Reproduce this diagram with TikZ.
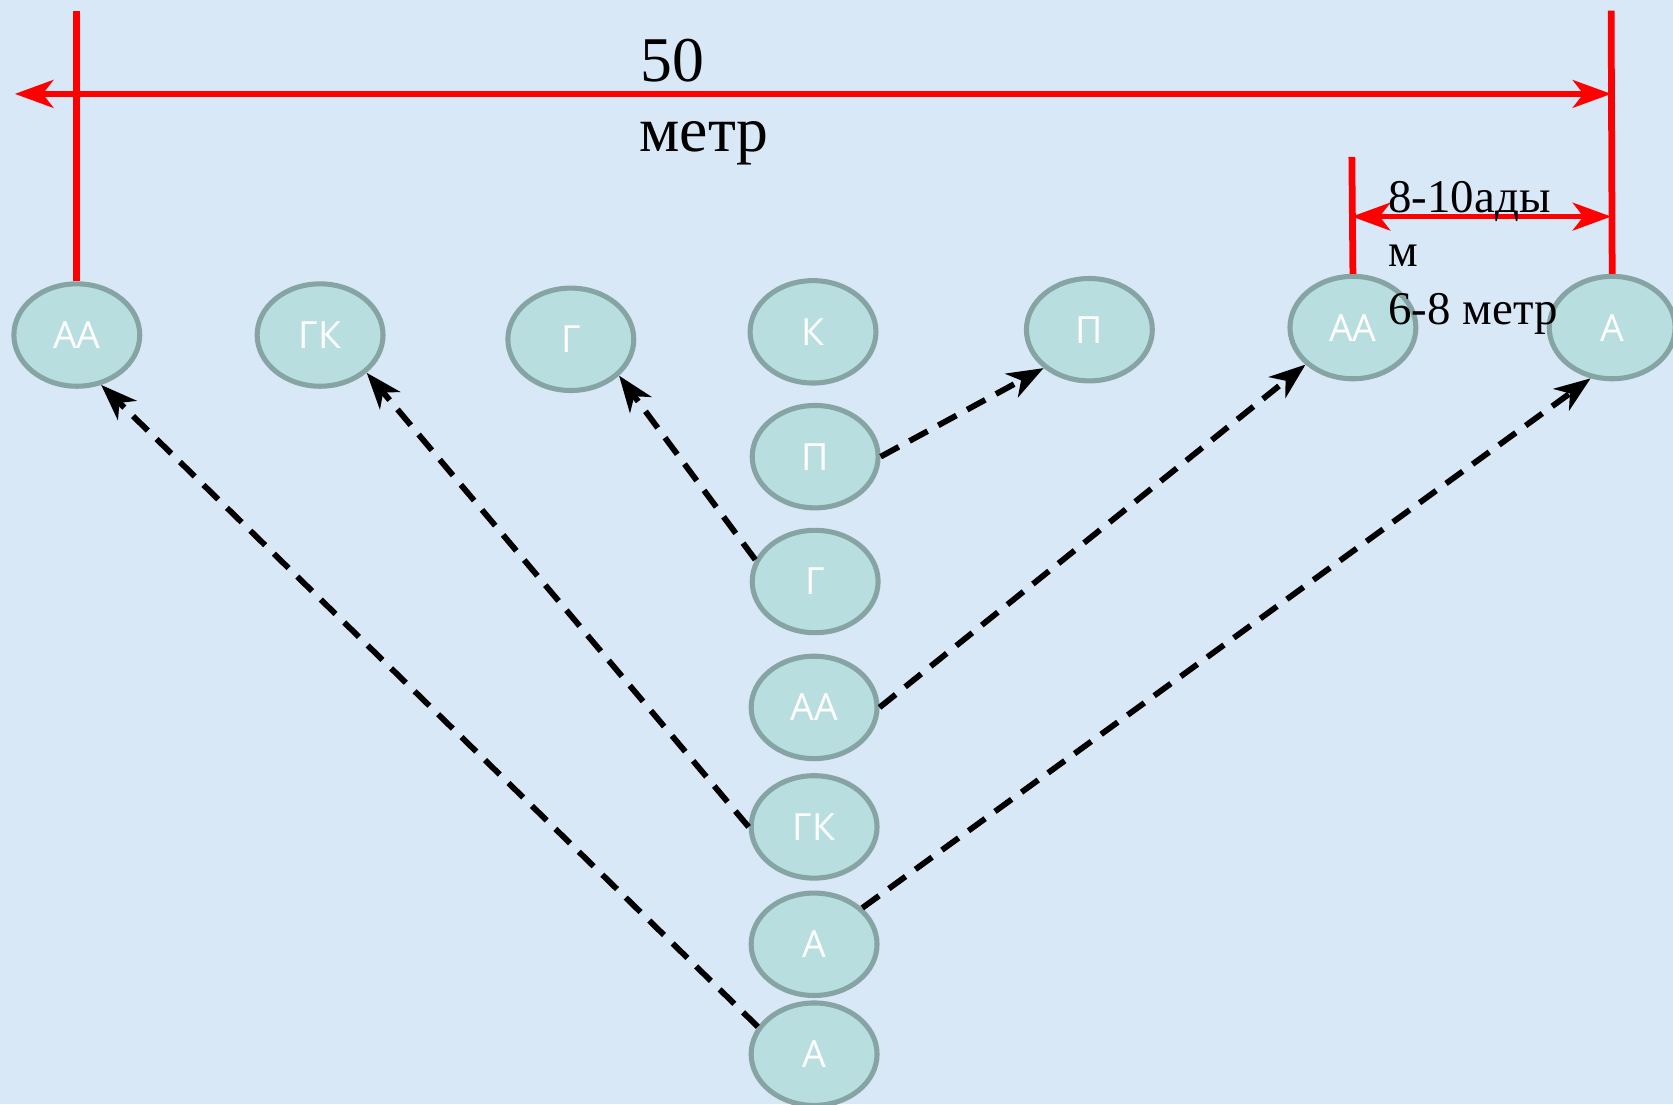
\documentclass[tikz,border=0pt]{standalone}
\usepackage{fontspec}
\setmainfont{Liberation Serif}
\newfontfamily\nodefont{Open Sans}
\usetikzlibrary{shapes.geometric,arrows.meta}
\definecolor{bgblue}{RGB}{216,232,246}
\definecolor{ellfill}{RGB}{185,222,224}
\definecolor{elldraw}{RGB}{133,164,163}
\definecolor{redline}{RGB}{255,0,0}
\tikzset{
  pers/.style={ellipse,draw=elldraw,fill=ellfill,line width=0.095cm,
    minimum width=2.36cm,minimum height=1.92cm,inner sep=0pt,
    text=white,font=\nodefont\fontsize{20}{22}\selectfont},
  runarrow/.style={black,line width=3.1pt,dash pattern=on 11pt off 6.5pt,
    -{Stealth[length=0.68cm,width=0.5cm,inset=0.2cm]}},
  dimline/.style={redline,line width=3.6pt},
  dimarrow/.style={redline,line width=2.8pt,
    {Stealth[length=0.72cm,width=0.52cm,inset=0.2cm]}-{Stealth[length=0.72cm,width=0.52cm,inset=0.2cm]}},
  bigtext/.style={font=\fontsize{34}{36}\selectfont,inner sep=0pt},
  smalltext/.style={font=\fontsize{25}{27}\selectfont,inner sep=0pt,anchor=base west}
}
\begin{document}
\begin{tikzpicture}[x=0.02cm,y=-0.02cm]
\fill[bgblue] (0,0) rectangle (1568,1035);
\useasboundingbox (0,0) rectangle (1568,1035);
% top row
\node[pers] (tAA) at (72,314) {АА};
\node[pers] (tGK) at (300,314) {ГК};
\node[pers] (tG) at (535,318) {Г};
\node[pers] (tK) at (762,311) {К};
\node[pers] (tP) at (1021,309) {П};
\node[pers] (tAA2) at (1268,307) {АА};
\node[pers] (tA) at (1511,307) {А};
% column
\node[pers] (cP) at (764,428) {П};
\node[pers] (cG) at (764,545) {Г};
\node[pers] (cAA) at (763,663) {АА};
\node[pers] (cGK) at (763,775) {ГК};
\node[pers] (cA1) at (763,885) {А};
\node[pers] (cA2) at (763,988) {А};
% dashed runs
\draw[runarrow] (cP.east) -- (tP.220);
\draw[runarrow] (cG.160) -- (tG.-37);
\draw[runarrow] (cAA.east) -- (tAA2.218);
\draw[runarrow] (cGK.west) -- (tGK.-39);
\draw[runarrow] (cA1.37) -- (tA.247);
\draw[runarrow] (cA2.154) -- (tAA.-64);
% red dimension lines
\coordinate (topL) at (72,10);
\coordinate (topR) at (1510,10);
\coordinate (arrL) at (14,88);
\coordinate (arrR) at (1510,88);
\coordinate (topM) at (1267,147);
\coordinate (smL) at (1267,203);
\coordinate (smR) at (1510,203);
\draw[dimline] (topL) -- (tAA.north);
\draw[dimline] (topR) -- (tA.north);
\draw[dimline] (topM) -- (tAA2.north);
\draw[dimarrow] (arrL) -- (arrR);
\draw[dimarrow] (smL) -- (smR);
% texts
\node[bigtext,anchor=base west] (t50) at (600,76) {50};
\node[bigtext,anchor=base west] (tmetr) at (599,142) {метр};
\node[smalltext] (s1) at (1301,199) {8-10ады};
\node[smalltext] (s2) at (1301,250) {м};
\node[smalltext] (s3) at (1301,304) {6-8 метр};
\end{tikzpicture}
\end{document}
